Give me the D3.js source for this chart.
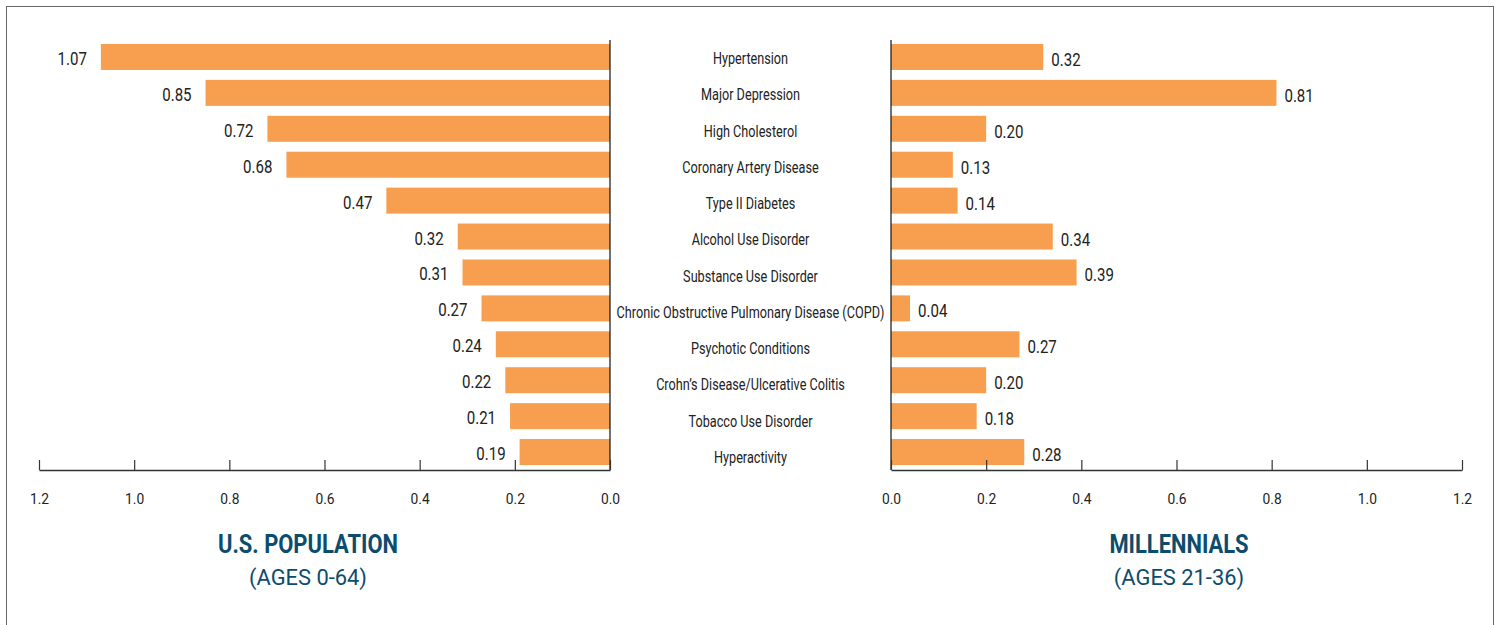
<!DOCTYPE html>
<html>
<head>
<meta charset="utf-8">
<script src="https://cdn.jsdelivr.net/npm/d3@7"></script>
<style>
  body { margin: 0; background: #fff; }
  text { font-family: Roboto, "Liberation Sans", sans-serif; }
</style>
</head>
<body>
<div id="chart"></div>
<script>
var conditions = ["Hypertension", "Major Depression", "High Cholesterol", "Coronary Artery Disease",
  "Type II Diabetes", "Alcohol Use Disorder", "Substance Use Disorder",
  "Chronic Obstructive Pulmonary Disease (COPD)", "Psychotic Conditions",
  "Crohn\u2019s Disease/Ulcerative Colitis", "Tobacco Use Disorder", "Hyperactivity"];
var usPopulation = [1.07, 0.85, 0.72, 0.68, 0.47, 0.32, 0.31, 0.27, 0.24, 0.22, 0.21, 0.19];
var millennials = [0.32, 0.81, 0.20, 0.13, 0.14, 0.34, 0.39, 0.04, 0.27, 0.20, 0.18, 0.28];
var tickValues = [0, 0.2, 0.4, 0.6, 0.8, 1.0, 1.2];

var width = 1501, height = 625;
var barColor = "#f79f4f", titleColor = "#0c4c6c", textColor = "#222";

var svg = d3.select("#chart").append("svg")
    .attr("width", width)
    .attr("height", height);

svg.append("rect")
    .attr("x", 6.5).attr("y", 6.5)
    .attr("width", 1487).attr("height", 640)
    .attr("fill", "none")
    .attr("stroke", "#666");

var y = d3.scaleBand()
    .domain(conditions)
    .range([39, 470])
    .paddingInner(0.276)
    .paddingOuter(0.138);
// the centre labels run on a slightly longer step than the bars
var yLabel = d3.scalePoint().domain(conditions).range([58, 457]);

var xLeft = d3.scaleLinear().domain([0, 1.2]).range([610, 39]);
var xRight = d3.scaleLinear().domain([0, 1.2]).range([891, 1462]);
var axisY = 470;
var mid = function(d) { return y(d) + y.bandwidth() / 2; };

// squeeze text horizontally to get a condensed face
function squeeze(sel, f) {
  sel.each(function() {
    var t = d3.select(this);
    var tx = +t.attr("x") || 0, ty = +t.attr("y") || 0;
    t.attr("x", 0).attr("y", 0)
     .attr("transform", "translate(" + tx + "," + ty + ") scale(" + f + ",1)");
  });
}
function fit(sel, w) {
  return w / sel.node().getComputedTextLength();
}

// left panel
svg.selectAll(".bar-left")
    .data(usPopulation)
    .enter().append("rect")
    .attr("class", "bar-left")
    .attr("x", function(d) { return xLeft(d); })
    .attr("y", function(d, i) { return y(conditions[i]); })
    .attr("width", function(d) { return xLeft(0) - xLeft(d); })
    .attr("height", y.bandwidth())
    .attr("fill", barColor);

var valLeft = svg.selectAll(".val-left")
    .data(usPopulation)
    .enter().append("text")
    .attr("x", function(d) { return xLeft(d) - 14; })
    .attr("y", function(d, i) { return mid(conditions[i]) + 8; })
    .attr("text-anchor", "end")
    .attr("font-size", 19)
    .attr("fill", textColor)
    .text(function(d) { return d.toFixed(2); });

// right panel
svg.selectAll(".bar-right")
    .data(millennials)
    .enter().append("rect")
    .attr("class", "bar-right")
    .attr("x", xRight(0))
    .attr("y", function(d, i) { return y(conditions[i]); })
    .attr("width", function(d) { return xRight(d) - xRight(0); })
    .attr("height", y.bandwidth())
    .attr("fill", barColor);

var valRight = svg.selectAll(".val-right")
    .data(millennials)
    .enter().append("text")
    .attr("x", function(d) { return xRight(d) + 8; })
    .attr("y", function(d, i) { return mid(conditions[i]) + 9; })
    .attr("text-anchor", "start")
    .attr("font-size", 19)
    .attr("fill", textColor)
    .text(function(d) { return d.toFixed(2); });

// category labels
var cats = svg.selectAll(".cat")
    .data(conditions)
    .enter().append("text")
    .attr("x", 750.5)
    .attr("y", function(d) { return yLabel(d) + 6; })
    .attr("text-anchor", "middle")
    .attr("font-size", 16)
    .attr("fill", textColor)
    .text(function(d) { return d; });

// vertical baselines
[xLeft(0), xRight(0)].forEach(function(xp) {
  svg.append("line")
      .attr("x1", xp).attr("x2", xp)
      .attr("y1", 40).attr("y2", axisY)
      .attr("stroke", "#111")
      .attr("stroke-width", 1.2);
});

// axes
var tickTexts = [];
function drawAxis(scale) {
  var g = svg.append("g")
      .attr("transform", "translate(0," + axisY + ")")
      .call(d3.axisBottom(scale).tickValues(tickValues).tickSize(-10).tickSizeOuter(0)
        .tickFormat(d3.format(".1f")));
  g.select(".domain").attr("stroke", "#333").attr("stroke-width", 1.5);
  g.selectAll(".tick line").attr("stroke", "#333").attr("stroke-width", 1.2);
  g.selectAll(".tick text")
      .attr("class", "tick-label")
      .attr("y", 23)
      .attr("font-size", 15)
      .attr("font-family", "Roboto, sans-serif")
      .attr("fill", textColor);
}
drawAxis(xLeft);
drawAxis(xRight);

// titles
var titles = [
  {x: 308, main: "U.S. POPULATION", sub: "(AGES 0-64)"},
  {x: 1179, main: "MILLENNIALS", sub: "(AGES 21-36)"}
];
var mains = svg.selectAll(".title-main")
    .data(titles)
    .enter().append("text")
    .attr("x", function(t) { return t.x; }).attr("y", 553)
    .attr("text-anchor", "middle")
    .attr("font-size", 25)
    .attr("font-weight", "bold")
    .attr("fill", titleColor)
    .text(function(t) { return t.main; });
var subs = svg.selectAll(".title-sub")
    .data(titles)
    .enter().append("text")
    .attr("x", function(t) { return t.x; }).attr("y", 585)
    .attr("text-anchor", "middle")
    .attr("font-size", 22)
    .attr("fill", titleColor)
    .text(function(t) { return t.sub; });

var f = fit(cats.filter(function(d) { return d.indexOf("COPD") >= 0; }), 268);
squeeze(cats, f);
squeeze(valLeft, f);
squeeze(valRight, f);
squeeze(svg.selectAll(".tick-label"), 0.92);
squeeze(mains, fit(mains, 180));
squeeze(subs, fit(subs, 118));
</script>
</body>
</html>
